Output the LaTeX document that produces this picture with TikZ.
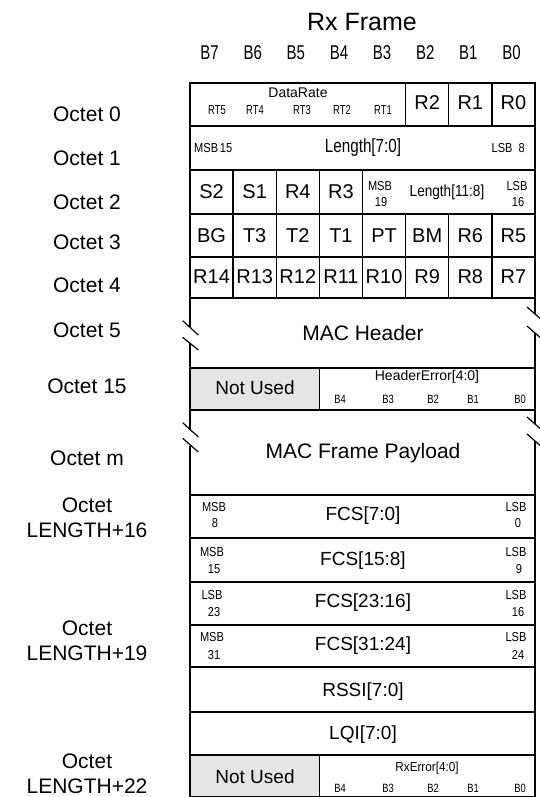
\documentclass[tikz,border=0pt]{standalone}
\usepackage{fontspec}
\setmainfont{Liberation Sans}
\usepackage{graphicx}
\newcommand\nar[2]{\scalebox{#1}[1]{#2}}
\begin{document}
\begin{tikzpicture}[x=1pt,y=-1pt,
  grid/.style={line width=1.4pt, draw=black},
  title/.style={font=\fontsize{25}{28}\selectfont, inner sep=0pt},
  blab/.style={font=\fontsize{20}{24}\selectfont, inner sep=0pt},
  olab/.style={font=\fontsize{21}{25}\selectfont, inner sep=0pt, align=center},
  cell/.style={font=\fontsize{20}{24}\selectfont, inner sep=0pt},
  mid/.style={font=\fontsize{21}{25}\selectfont, inner sep=0pt},
  fcs/.style={font=\fontsize{19}{22}\selectfont, inner sep=0pt},
  sm/.style={font=\fontsize{14}{16}\selectfont, inner sep=0pt},
  tiny/.style={font=\fontsize{13}{15}\selectfont, inner sep=0pt},
  unused/.style={grid, fill=black!10}]
\useasboundingbox (0,0) rectangle (539,797);

% ---------- title and bit labels
\node[title] (title) at (362,22) {Rx Frame};
\foreach \i/\t in {0/B7,1/B6,2/B5,3/B4,4/B3,5/B2,6/B1,7/B0}
  \node[blab] (bit\i) at ({190+43.125*(\i+0.5)-2},53) {\nar{0.75}{\t}};

% ---------- octet labels
\node[olab] (o0) at (87,114) {Octet 0};
\node[olab] (o1) at (87,158) {Octet 1};
\node[olab] (o2) at (87,202) {Octet 2};
\node[olab] (o3) at (87,242) {Octet 3};
\node[olab] (o4) at (87,285) {Octet 4};
\node[olab] (o5) at (87,330) {Octet 5};
\node[olab] (o15) at (87,386) {Octet 15};
\node[olab] (om) at (87,458) {Octet m};
\node[olab] (o16) at (87,518) {Octet\\LENGTH+16};
\node[olab] (o19) at (87,641) {Octet\\LENGTH+19};
\node[olab] (o22) at (87,773.5) {Octet\\LENGTH+22};

% ---------- top block (octets 0-4)
\draw[grid] (190,83) rectangle (535,298);
\foreach \y in {126,170,214,257} \draw[grid] (190,\y) -- (535,\y);
\foreach \k in {5,6,7} \draw[grid] ({190+43.125*\k},83) -- ({190+43.125*\k},126);
\foreach \k in {1,2,3,4} \draw[grid] ({190+43.125*\k},170) -- ({190+43.125*\k},214);
\foreach \k in {1,...,7} \draw[grid] ({190+43.125*\k},214) -- ({190+43.125*\k},298);

% octet 0
\node[sm] (dr) at (298,93) {DataRate};
\foreach \t/\x in {RT5/217,RT4/255,RT3/302,RT2/342,RT1/383}
  \node[tiny] (\t) at (\x,110) {\nar{0.72}{\t}};
\foreach \t/\k in {R2/5,R1/6,R0/7}
  \node[cell] (\t) at ({190+43.125*(\k+0.5)},103) {\t};
% octet 1
\node[tiny, anchor=west] (msb15) at (194,148) {\nar{0.85}{MSB\,15}};
\node[fcs] (len70) at (363,148) {\nar{0.8}{Length[7:0]}};
\node[tiny, anchor=east] (lsb8) at (525,148) {\nar{0.85}{LSB\ \ 8}};
% octet 2
\foreach \t/\k in {S2/0,S1/1,R4/2,R3/3}
  \node[cell] (\t) at ({190+43.125*(\k+0.5)},192) {\t};
\node[tiny] (msb19a) at (380,186) {\nar{0.85}{MSB}};
\node[tiny] (msb19b) at (381,202) {\nar{0.85}{19}};
\node[font=\fontsize{16}{18}\selectfont, inner sep=0pt] (len118) at (447,192) {\nar{0.85}{Length[11:8]}};
\node[tiny] (lsb16a) at (517,186) {\nar{0.85}{LSB}};
\node[tiny] (lsb16b) at (518,202) {\nar{0.85}{16}};
% octet 3
\foreach \t/\k in {BG/0,T3/1,T2/2,T1/3,PT/4,BM/5,R6/6,R5/7}
  \node[cell] (\t) at ({190+43.125*(\k+0.5)},236) {\t};
% octet 4
\foreach \t/\k in {R14/0,R13/1,R12/2,R11/3,R10/4,R9/5,R8/6,R7/7}
  \node[cell] (\t) at ({190+43.125*(\k+0.5)},277) {\t};

% ---------- MAC header (broken edges)
\draw[grid] (190,298) -- (190,327.4);
\draw[grid] (190,343.3) -- (190,368);
\draw[grid, line width=1.2pt] (182.7,320.7) -- (198.3,335);
\draw[grid, line width=1.2pt] (182.7,337.3) -- (198.3,350);
\draw[grid] (535,298) -- (535,314);
\draw[grid] (535,333) -- (535,368);
\draw[grid, line width=1.2pt] (527,307) -- (543,321);
\draw[grid, line width=1.2pt] (527,326) -- (543,340);
\node[mid] (mach) at (363,333) {MAC Header};

% ---------- octet 15
\draw[unused] (190,368) rectangle (319.375,410);
\draw[grid] (319.375,368) rectangle (535,410);
\node[fcs] (nu1) at (255,388) {Not Used};
\node[sm] (he) at (427,377) {HeaderError[4:0]};
\foreach \t/\x in {B4/340,B3/388,B2/433,B1/473,B0/520}
  \node[font=\fontsize{12}{14}\selectfont, inner sep=0pt] (he\t) at (\x,399) {\nar{0.78}{\t}};

% ---------- MAC frame payload (broken edges)
\draw[grid] (190,410) -- (190,430);
\draw[grid] (190,446) -- (190,495);
\draw[grid, line width=1.2pt] (182.7,422.7) -- (198.3,437);
\draw[grid, line width=1.2pt] (182.7,438.3) -- (198.3,452);
\draw[grid] (535,410) -- (535,424);
\draw[grid] (535,441) -- (535,495);
\draw[grid, line width=1.2pt] (527,417) -- (543,431);
\draw[grid, line width=1.2pt] (527,434) -- (543,448);
\node[mid] (pay) at (363,453) {MAC Frame Payload};

% ---------- bottom block
\draw[grid] (190,495) rectangle (535,796.5);
\foreach \y in {538,582,625,667,712,755} \draw[grid] (190,\y) -- (535,\y);
\draw[unused] (190,755) rectangle (319.375,796.5);
\draw[grid] (319.375,755) -- (319.375,796.5);

\node[fcs] (fcs0) at (363,516) {FCS[7:0]};
\node[tiny] (f0a) at (214,507) {\nar{0.85}{MSB}};
\node[tiny] (f0b) at (215,523) {\nar{0.85}{8}};
\node[tiny] (f0c) at (516,507) {\nar{0.85}{LSB}};
\node[tiny] (f0d) at (518,523) {\nar{0.85}{0}};

\node[fcs] (fcs1) at (363,561) {FCS[15:8]};
\node[tiny] (f1a) at (212,552) {\nar{0.85}{MSB}};
\node[tiny] (f1b) at (214,569) {\nar{0.85}{15}};
\node[tiny] (f1c) at (516,552) {\nar{0.85}{LSB}};
\node[tiny] (f1d) at (519,569) {\nar{0.85}{9}};

\node[fcs] (fcs2) at (363,603) {FCS[23:16]};
\node[tiny] (f2a) at (212,595) {\nar{0.85}{LSB}};
\node[tiny] (f2b) at (214,612) {\nar{0.85}{23}};
\node[tiny] (f2c) at (516,595) {\nar{0.85}{LSB}};
\node[tiny] (f2d) at (518,612) {\nar{0.85}{16}};

\node[fcs] (fcs3) at (363,646) {FCS[31:24]};
\node[tiny] (f3a) at (212,637) {\nar{0.85}{MSB}};
\node[tiny] (f3b) at (214,655) {\nar{0.85}{31}};
\node[tiny] (f3c) at (516,637) {\nar{0.85}{LSB}};
\node[tiny] (f3d) at (518,655) {\nar{0.85}{24}};

\node[fcs] (rssi) at (363,692) {RSSI[7:0]};
\node[fcs] (lqi) at (363,735) {LQI[7:0]};

\node[fcs] (nu2) at (255,777) {Not Used};
\node[tiny] (rxe) at (427,768) {\nar{0.9}{RxError[4:0]}};
\foreach \t/\x in {B4/340,B3/388,B2/433,B1/473,B0/520}
  \node[font=\fontsize{12}{14}\selectfont, inner sep=0pt] (rx\t) at (\x,788) {\nar{0.78}{\t}};
\end{tikzpicture}
\end{document}
